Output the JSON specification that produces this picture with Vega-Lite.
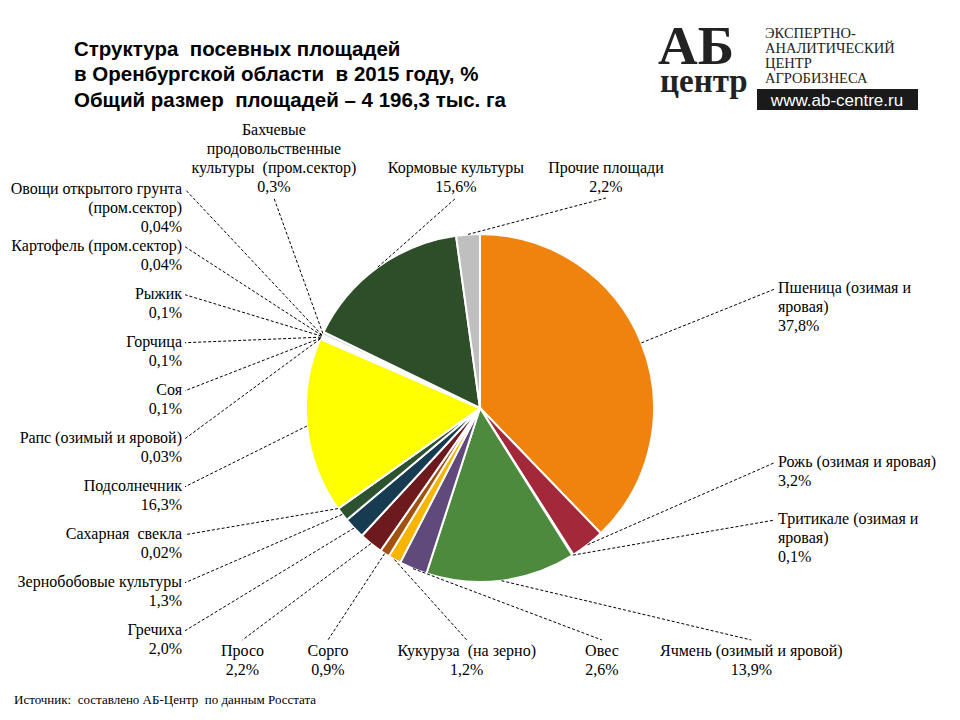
{
  "$schema": "https://vega.github.io/schema/vega-lite/v6.json",
  "width": 960,
  "height": 624,
  "autosize": {"type": "none"},
  "padding": {"left": 0, "top": 96, "right": 0, "bottom": 0},
  "background": "white",
  "config": {"view": {"stroke": null}},
  "title": {
    "text": ["Структура\u00a0 посевных площадей", "в Оренбургской области\u00a0 в 2015 году, %", "Общий размер\u00a0 площадей – 4 196,3 тыс. га"],
    "anchor": "start",
    "frame": "group",
    "dx": 74,
    "offset": -91,
    "baseline": "top",
    "font": "Liberation Sans",
    "fontSize": 20.5,
    "fontWeight": "bold",
    "lineHeight": 25.5,
    "color": "#000000"
  },
  "layer": [
    {
      "data": {
        "values": [
          {"order": 1, "crop": "Пшеница (озимая и яровая)", "label": "Пшеница (озимая и\nяровая)", "share": 37.8},
          {"order": 2, "crop": "Рожь (озимая и яровая)", "label": "Рожь (озимая и яровая)", "share": 3.2},
          {"order": 3, "crop": "Тритикале (озимая и яровая)", "label": "Тритикале (озимая и\nяровая)", "share": 0.1},
          {"order": 4, "crop": "Ячмень (озимый и яровой)", "label": "Ячмень (озимый и яровой)", "share": 13.9},
          {"order": 5, "crop": "Овес", "label": "Овес", "share": 2.6},
          {"order": 6, "crop": "Кукуруза (на зерно)", "label": "Кукуруза\u00a0 (на зерно)", "share": 1.2},
          {"order": 7, "crop": "Сорго", "label": "Сорго", "share": 0.9},
          {"order": 8, "crop": "Просо", "label": "Просо", "share": 2.2},
          {"order": 9, "crop": "Гречиха", "label": "Гречиха", "share": 2.0},
          {"order": 10, "crop": "Зернобобовые культуры", "label": "Зернобобовые культуры", "share": 1.3},
          {"order": 11, "crop": "Сахарная свекла", "label": "Сахарная\u00a0 свекла", "share": 0.02},
          {"order": 12, "crop": "Подсолнечник", "label": "Подсолнечник", "share": 16.3},
          {"order": 13, "crop": "Рапс (озимый и яровой)", "label": "Рапс (озимый и яровой)", "share": 0.03},
          {"order": 14, "crop": "Соя", "label": "Соя", "share": 0.1},
          {"order": 15, "crop": "Горчица", "label": "Горчица", "share": 0.1},
          {"order": 16, "crop": "Рыжик", "label": "Рыжик", "share": 0.1},
          {"order": 17, "crop": "Картофель (пром.сектор)", "label": "Картофель (пром.сектор)", "share": 0.04},
          {"order": 18, "crop": "Овощи открытого грунта (пром.сектор)", "label": "Овощи открытого грунта\n(пром.сектор)", "share": 0.04},
          {"order": 19, "crop": "Бахчевые продовольственные культуры (пром.сектор)", "label": "Бахчевые\nпродовольственные\nкультуры\u00a0 (пром.сектор)", "share": 0.3},
          {"order": 20, "crop": "Кормовые культуры", "label": "Кормовые культуры", "share": 15.6},
          {"order": 21, "crop": "Прочие площади", "label": "Прочие площади", "share": 2.2}
        ]
      },
      "transform": [
        {"calculate": "replace(format(datum.share, datum.share < 0.1 ? '.2f' : '.1f'), '.', ',') + '%'", "as": "pct"},
        {"calculate": "datum.label + '\\n' + datum.pct", "as": "txt"},
        {"calculate": "split(datum.txt, '\\n')", "as": "lines"},
        {"calculate": "length(datum.lines)", "as": "nLines"},
        {"calculate": "max(length(datum.lines[0]), length(datum.lines[1] || ''), length(datum.lines[2] || ''), length(datum.lines[3] || ''))", "as": "maxChars"},
        {"window": [{"op": "sum", "field": "share", "as": "cumShare"}], "sort": [{"field": "order"}]},
        {"joinaggregate": [{"op": "sum", "field": "share", "as": "total"}]},
        {"calculate": "2 * PI * (datum.cumShare - datum.share / 2) / datum.total", "as": "ma"},
        {"calculate": "sin(datum.ma)", "as": "sn"},
        {"calculate": "cos(datum.ma)", "as": "cs"},
        {"calculate": "min(abs(datum.sn) > 1e-6 ? 295 / abs(datum.sn) : 1e6, datum.cs > 1e-6 ? 210 / datum.cs : (datum.cs < -1e-6 ? 232 / (-datum.cs) : 1e6))", "as": "tHit"},
        {"calculate": "datum.tHit * datum.sn", "as": "hx"},
        {"calculate": "-datum.tHit * datum.cs", "as": "hy"},
        {"calculate": "datum.hy < -209.5 ? (datum.hx >= 0 ? datum.hx : 2119 + datum.hx) : (datum.hx > 294.5 ? 505 + datum.hy : (datum.hy > 231.5 ? 1032 - datum.hx : 1559 - datum.hy))", "as": "sSlice"},
        {"calculate": "datum.hy < -209.5 ? 7.1 * datum.maxChars + 40 : (datum.hy > 231.5 ? 7.1 * datum.maxChars + 50 : 19 * datum.nLines + 10)", "as": "sizeA"},
        {"window": [{"op": "sum", "field": "sizeA", "as": "cumA"}], "sort": [{"field": "order"}]},
        {"calculate": "datum.cumA - datum.sizeA / 2", "as": "cA"},
        {"calculate": "datum.sSlice - datum.cA", "as": "dA"},
        {"joinaggregate": [{"op": "median", "field": "dA", "as": "offA"}]},
        {"window": [{"op": "max", "field": "dA", "as": "cmA"}], "sort": [{"field": "order"}]},
        {"calculate": "((datum.cA + min(datum.offA, datum.cmA)) % 2119 + 2119) % 2119", "as": "smA"},
        {"calculate": "(datum.smA < 295 || datum.smA >= (datum.hx < -294.5 ? 1894 : 1824)) ? 7.1 * datum.maxChars + 40 : ((datum.smA >= 737 && datum.smA < 1327) ? 7.1 * datum.maxChars + 50 : 19 * datum.nLines + 10)", "as": "sizeB"},
        {"window": [{"op": "sum", "field": "sizeB", "as": "cumB"}], "sort": [{"field": "order"}]},
        {"calculate": "datum.cumB - datum.sizeB / 2", "as": "cB"},
        {"calculate": "datum.sSlice - datum.cB", "as": "dB"},
        {"joinaggregate": [{"op": "median", "field": "dB", "as": "offB"}]},
        {"window": [{"op": "max", "field": "dB", "as": "cmB"}], "sort": [{"field": "order"}]},
        {"calculate": "((datum.cB + min(datum.offB, datum.cmB)) % 2119 + 2119) % 2119", "as": "sm"},
        {"calculate": "datum.sm < 295 ? 'A' : (datum.sm < 737 ? 'B' : (datum.sm < 1327 ? 'C' : (datum.sm < 1824 ? 'D' : 'E')))", "as": "seg"},
        {"calculate": "datum.seg == 'A' ? datum.sm : (datum.seg == 'B' ? 295 : (datum.seg == 'C' ? 1032 - datum.sm : (datum.seg == 'D' ? -295 : datum.sm - 2119)))", "as": "lx"},
        {"calculate": "(datum.seg == 'A' || datum.seg == 'E') ? -210 : (datum.seg == 'B' ? datum.sm - 505 : (datum.seg == 'C' ? 232 : 1559 - datum.sm))", "as": "ly"},
        {"calculate": "(datum.seg == 'A' || datum.seg == 'E') ? datum.ly - 19 * (datum.nLines - 1) : datum.ly", "as": "ty"},
        {"calculate": "174 * datum.sn", "as": "sx"},
        {"calculate": "-174 * datum.cs", "as": "sy"}
      ],
      "layer": [
        {
          "mark": {"type": "arc", "outerRadius": 174, "stroke": "white", "strokeWidth": 2},
          "encoding": {
            "theta": {"field": "share", "type": "quantitative", "stack": true},
            "order": {"field": "order", "type": "quantitative"},
            "color": {
              "field": "crop",
              "type": "nominal",
              "legend": null,
              "scale": {
                "domain": ["Пшеница (озимая и яровая)", "Рожь (озимая и яровая)", "Тритикале (озимая и яровая)", "Ячмень (озимый и яровой)", "Овес", "Кукуруза (на зерно)", "Сорго", "Просо", "Гречиха", "Зернобобовые культуры", "Сахарная свекла", "Подсолнечник", "Рапс (озимый и яровой)", "Соя", "Горчица", "Рыжик", "Картофель (пром.сектор)", "Овощи открытого грунта (пром.сектор)", "Бахчевые продовольственные культуры (пром.сектор)", "Кормовые культуры", "Прочие площади"],
                "range": ["#F0830E", "#A3283A", "#C0504D", "#4E8A3E", "#604A7B", "#F7B500", "#A0520E", "#6D1A1E", "#173C52", "#2D5230", "#948A54", "#FFFF00", "#9BBB59", "#8064A2", "#4BACC6", "#F79646", "#C4BD97", "#8EB4E3", "#D9D9D9", "#2E4E2A", "#BFBFBF"]
              }
            }
          }
        },
        {
          "mark": {"type": "rule", "strokeDash": [3, 2], "strokeWidth": 1, "color": "#000000"},
          "encoding": {
            "x": {"field": "sx", "type": "quantitative", "axis": null, "scale": {"domain": [-480, 480], "nice": false, "zero": false}},
            "y": {"field": "sy", "type": "quantitative", "axis": null, "scale": {"domain": [-312, 312], "nice": false, "zero": false, "reverse": true}},
            "x2": {"field": "lx"},
            "y2": {"field": "ly"}
          }
        },
        {
          "transform": [{"filter": "datum.seg == 'B'"}],
          "mark": {"type": "text", "align": "left", "baseline": "top", "dx": 3, "dy": -8.5, "font": "Liberation Serif", "fontSize": 16, "lineHeight": 19, "lineBreak": "\n", "color": "#000000"},
          "encoding": {
            "x": {"field": "lx", "type": "quantitative", "axis": null, "scale": {"domain": [-480, 480], "nice": false, "zero": false}},
            "y": {"field": "ty", "type": "quantitative", "axis": null, "scale": {"domain": [-312, 312], "nice": false, "zero": false, "reverse": true}},
            "text": {"field": "txt"}
          }
        },
        {
          "transform": [{"filter": "datum.seg == 'D'"}],
          "mark": {"type": "text", "align": "right", "baseline": "top", "dx": -3, "dy": -8.5, "font": "Liberation Serif", "fontSize": 16, "lineHeight": 19, "lineBreak": "\n", "color": "#000000"},
          "encoding": {
            "x": {"field": "lx", "type": "quantitative", "axis": null, "scale": {"domain": [-480, 480], "nice": false, "zero": false}},
            "y": {"field": "ty", "type": "quantitative", "axis": null, "scale": {"domain": [-312, 312], "nice": false, "zero": false, "reverse": true}},
            "text": {"field": "txt"}
          }
        },
        {
          "transform": [{"filter": "datum.seg == 'C'"}],
          "mark": {"type": "text", "align": "center", "baseline": "top", "dy": 3, "font": "Liberation Serif", "fontSize": 16, "lineHeight": 19, "lineBreak": "\n", "color": "#000000"},
          "encoding": {
            "x": {"field": "lx", "type": "quantitative", "axis": null, "scale": {"domain": [-480, 480], "nice": false, "zero": false}},
            "y": {"field": "ty", "type": "quantitative", "axis": null, "scale": {"domain": [-312, 312], "nice": false, "zero": false, "reverse": true}},
            "text": {"field": "txt"}
          }
        },
        {
          "transform": [{"filter": "datum.seg == 'A' || datum.seg == 'E'"}],
          "mark": {"type": "text", "align": "center", "baseline": "bottom", "dy": -3, "font": "Liberation Serif", "fontSize": 16, "lineHeight": 19, "lineBreak": "\n", "color": "#000000"},
          "encoding": {
            "x": {"field": "lx", "type": "quantitative", "axis": null, "scale": {"domain": [-480, 480], "nice": false, "zero": false}},
            "y": {"field": "ty", "type": "quantitative", "axis": null, "scale": {"domain": [-312, 312], "nice": false, "zero": false, "reverse": true}},
            "text": {"field": "txt"}
          }
        }
      ]
    },
    {
      "data": {"values": [{}]},
      "mark": {"type": "text", "text": "АБ", "x": 658, "y": -32, "align": "left", "baseline": "alphabetic", "font": "Liberation Serif", "fontSize": 55, "fontWeight": "bold", "color": "#222222"},
      "encoding": {}
    },
    {
      "data": {"values": [{}]},
      "mark": {"type": "text", "text": "центр", "x": 660, "y": -4, "align": "left", "baseline": "alphabetic", "font": "Liberation Serif", "fontSize": 33, "fontWeight": "bold", "color": "#222222"},
      "encoding": {}
    },
    {
      "data": {"values": [{}]},
      "mark": {"type": "rule", "x": 757, "y": -70, "y2": -6, "color": "#333333", "strokeWidth": 1.5},
      "encoding": {}
    },
    {
      "data": {"values": [{}]},
      "mark": {"type": "text", "text": "ЭКСПЕРТНО-\nАНАЛИТИЧЕСКИЙ\nЦЕНТР\nАГРОБИЗНЕСА", "lineBreak": "\n", "lineHeight": 15, "x": 765, "y": -58, "align": "left", "baseline": "alphabetic", "font": "Liberation Serif", "fontSize": 14.5, "letterSpacing": 1.6, "color": "#222222"},
      "encoding": {}
    },
    {
      "data": {"values": [{}]},
      "mark": {"type": "rect", "x": 757, "x2": 918, "y": -7, "y2": 14, "color": "#1a1a1a"},
      "encoding": {}
    },
    {
      "data": {"values": [{}]},
      "mark": {"type": "text", "text": "www.ab-centre.ru", "x": 837, "y": 10, "align": "center", "baseline": "alphabetic", "font": "Liberation Sans", "fontSize": 17, "color": "#ffffff"},
      "encoding": {}
    },
    {
      "data": {"values": [{}]},
      "mark": {"type": "text", "text": "Источник:\u00a0 составлено АБ-Центр\u00a0 по данным Росстата", "x": 14, "y": 608, "align": "left", "baseline": "alphabetic", "font": "Liberation Serif", "fontSize": 13, "color": "#000000"},
      "encoding": {}
    }
  ]
}
